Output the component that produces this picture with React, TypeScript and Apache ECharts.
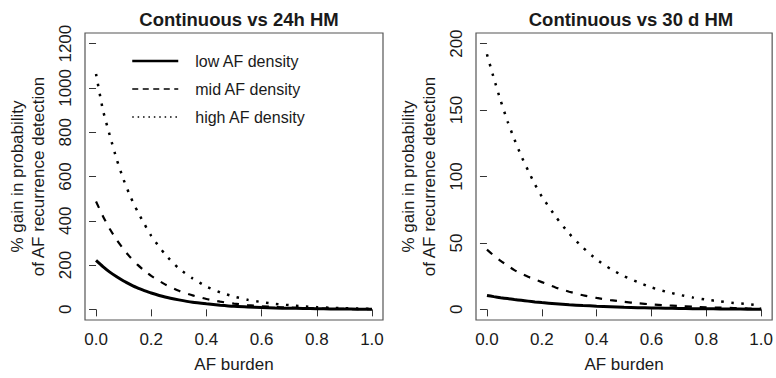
import React, { useEffect, useRef } from "react";
import * as echarts from "echarts";

const burden = [0, 0.025, 0.05, 0.075, 0.1, 0.125, 0.15, 0.175, 0.2, 0.25, 0.3, 0.35, 0.4, 0.45, 0.5, 0.55, 0.6, 0.65, 0.7, 0.75, 0.8, 0.85, 0.9, 0.95, 1.0];

// Left panel: Continuous vs 24h HM
const lowLeft = [221, 193, 168, 147, 128, 112, 97, 85, 74, 56, 43, 32, 25, 19, 14, 11, 8, 6, 5, 4, 3, 2, 1.5, 1, 0.5];
const midLeft = [487, 421, 363, 314, 271, 234, 202, 175, 151, 113, 84, 63, 47, 35, 26, 19, 14, 11, 8, 6, 4, 3, 2, 1, 0.5];
const highLeft = [1063, 900, 785, 677, 585, 508, 443, 386, 332, 249, 185, 140, 103, 77, 58, 43, 33, 25, 19, 14, 10, 7, 5, 3.5, 2];

// Right panel: Continuous vs 30 d HM
const lowRight = [10.5, 9.6, 8.8, 8.1, 7.4, 6.8, 6.2, 5.6, 5.1, 4.3, 3.5, 2.9, 2.4, 2, 1.6, 1.3, 1.1, 0.9, 0.7, 0.55, 0.45, 0.35, 0.25, 0.15, 0.1];
const midRight = [45, 40.5, 36.5, 33, 29.5, 27, 24.5, 22.5, 20.5, 16.5, 13.3, 10.6, 8.6, 7, 5.7, 4.6, 3.8, 3.1, 2.5, 2, 1.6, 1.3, 1, 0.7, 0.5];
const highRight = [192, 174, 157, 141.5, 128, 115.5, 104.5, 94, 85, 70, 57, 46.5, 37.5, 30.5, 25, 20.5, 16.5, 13.5, 11, 9, 7.3, 6, 4.8, 4, 3];

const xTicks = [0, 0.2, 0.4, 0.6, 0.8, 1.0];
const yTicksLeft = [0, 200, 400, 600, 800, 1000, 1200];
const yTicksRight = [0, 50, 100, 150, 200];

const seriesNames = ["low AF density", "mid AF density", "high AF density"];
const panelTitles = ["Continuous vs 24h HM", "Continuous vs 30 d HM"];
const xTitle = "AF burden";
const yTitle = "% gain in probability\nof AF recurrence detection";

const FONT = "'Liberation Sans', Arial, Helvetica, sans-serif";
const TXT = "#1a1a1a";
const BOX = "#555";

function App() {
  const ref = useRef<HTMLDivElement>(null);

  useEffect(() => {
    document.body.style.margin = "0";
    if (!ref.current) return;
    const chart = echarts.init(ref.current, undefined, { renderer: "svg" });

    const toPts = (arr: number[]) => burden.map((x, i) => [x, arr[i]]);

    const lineStyles = [
      { color: "#000", width: 3, type: "solid" as any },
      { color: "#000", width: 2.2, type: [7, 8] as any },
      { color: "#000", width: 2.5, type: [2.5, 7.5] as any },
    ];

    const mkX = (gi: number) => ({
      type: "value",
      gridIndex: gi,
      min: -0.04,
      max: 1.04,
      axisLine: { show: false },
      splitLine: { show: false },
      axisTick: { show: true, length: 7, customValues: xTicks, lineStyle: { color: "#333", width: 1 } },
      axisLabel: {
        customValues: xTicks,
        formatter: (v: number) => v.toFixed(1),
        margin: 11,
        fontSize: 17,
        fontFamily: FONT,
        color: TXT,
      },
      name: xTitle,
      nameLocation: "middle",
      nameGap: 36,
      nameTextStyle: { fontSize: 17, fontFamily: FONT, color: TXT },
    });

    const mkY = (gi: number, min: number, max: number, ticks: number[]) => ({
      type: "value",
      gridIndex: gi,
      min,
      max,
      axisLine: { show: false },
      splitLine: { show: false },
      axisTick: { show: true, length: 7, customValues: ticks, lineStyle: { color: "#333", width: 1 } },
      axisLabel: {
        customValues: ticks,
        formatter: (v: number) => String(v),
        rotate: 90,
        margin: 11,
        fontSize: 17,
        fontFamily: FONT,
        color: TXT,
      },
      name: yTitle,
      nameLocation: "middle",
      nameRotate: 90,
      nameGap: 36,
      nameTextStyle: { fontSize: 17, lineHeight: 21, fontFamily: FONT, color: TXT },
    });

    const data = [
      [lowLeft, midLeft, highLeft],
      [lowRight, midRight, highRight],
    ];

    const series: any[] = [];
    data.forEach((panel, gi) => {
      panel.forEach((arr, si) => {
        series.push({
          type: "line",
          name: seriesNames[si],
          xAxisIndex: gi,
          yAxisIndex: gi,
          data: toPts(arr),
          showSymbol: false,
          symbol: "none",
          smooth: 0.2,
          lineStyle: lineStyles[si],
          itemStyle: { color: "#000" },
          z: 3,
        });
      });
    });

    const hiddenSym = { opacity: 0, color: "transparent", borderColor: "transparent", borderWidth: 0 };

    chart.setOption({
      animation: false,
      backgroundColor: "#fff",
      textStyle: { fontFamily: FONT },
      title: [
        {
          text: panelTitles[0],
          left: 234,
          top: 5,
          textAlign: "center",
          textStyle: { fontSize: 18.5, fontWeight: "bold", fontFamily: FONT, color: TXT },
        },
        {
          text: panelTitles[1],
          left: 626,
          top: 5,
          textAlign: "center",
          textStyle: { fontSize: 18.5, fontWeight: "bold", fontFamily: FONT, color: TXT },
        },
      ],
      legend: {
        orient: "vertical",
        left: 126,
        top: 48,
        itemWidth: 46,
        itemHeight: 16,
        itemGap: 12,
        selectedMode: false,
        itemStyle: hiddenSym,
        textStyle: { fontSize: 16, fontFamily: FONT, color: TXT, padding: [0, 0, 0, 12], lineHeight: 16 },
        data: [
          { name: seriesNames[0], itemStyle: hiddenSym, lineStyle: { width: 2.5, type: "solid", color: "#000" } },
          { name: seriesNames[1], itemStyle: hiddenSym, lineStyle: { width: 1.5, type: [6, 4.5], color: "#000" } },
          { name: seriesNames[2], itemStyle: hiddenSym, lineStyle: { width: 1.5, type: [1.5, 3.9], color: "#000" } },
        ],
      },
      grid: [
        { left: 85, width: 298, top: 33, height: 293, show: true, borderColor: BOX, borderWidth: 1.2, backgroundColor: "transparent" },
        { left: 476, width: 299, top: 33, height: 293, show: true, borderColor: BOX, borderWidth: 1.2, backgroundColor: "transparent" },
      ],
      xAxis: [mkX(0), mkX(1)],
      yAxis: [mkY(0, -48, 1248, yTicksLeft), mkY(1, -8, 208, yTicksRight)],
      series,
    } as any);

    return () => {
      chart.dispose();
    };
  }, []);

  return <div ref={ref} style={{ width: 776, height: 378 }} />;
}

export default App;
